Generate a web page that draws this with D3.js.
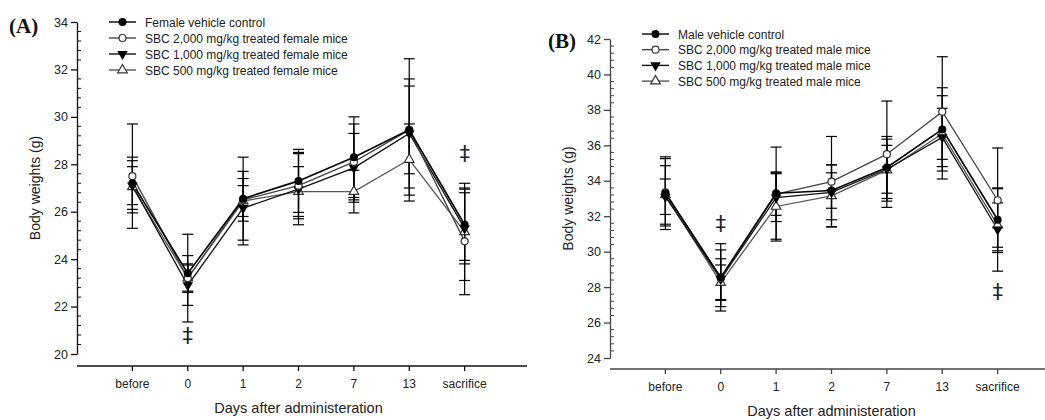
<!DOCTYPE html>
<html>
<head>
<meta charset="utf-8">
<script src="https://cdn.jsdelivr.net/npm/d3@7/dist/d3.min.js"></script>
<style>
  body { margin: 0; background: #fff; }
  svg { font-family: "Liberation Sans", Arial, sans-serif; }
</style>
</head>
<body>
<script>
// categorie asse x (uguali per entrambi i pannelli)
var days = ["before", "0", "1", "2", "7", "13", "sacrifice"];

// (A) femmine: medie e deviazioni
var femaleNames = ["Female vehicle control", "SBC 2,000 mg/kg treated female mice",
                   "SBC 1,000 mg/kg treated female mice", "SBC 500 mg/kg treated female mice"];
var femaleCtrl    = [27.2, 23.4, 26.55, 27.3, 28.3, 29.45, 25.45];
var femaleCtrlSd  = [1.1, 0.75, 1.75, 1.33, 1.7, 1.85, 1.5];
var female2000    = [27.5, 23.2, 26.5, 27.1, 28.1, 29.45, 24.75];
var female2000Sd  = [2.2, 1.85, 0.9, 1.4, 1.6, 3.0, 2.25];
var female1000    = [27.1, 22.9, 26.15, 26.95, 27.85, 29.3, 25.3];
var female1000Sd  = [0.8, 0.85, 1.55, 1.5, 1.45, 2.3, 1.5];
var female500     = [27.05, 23.2, 26.45, 26.85, 26.85, 28.2, 25.15];
var female500Sd   = [1.1, 0.6, 0.65, 1.05, 0.9, 1.5, 2.05];
var femaleTicks   = [20, 22, 24, 26, 28, 30, 32, 34];

// (B) maschi
var maleNames = ["Male vehicle control", "SBC 2,000 mg/kg treated male mice",
                 "SBC 1,000 mg/kg treated male mice", "SBC 500 mg/kg treated male mice"];
var maleCtrl    = [33.3, 28.55, 33.3, 33.45, 34.75, 36.9, 31.8];
var maleCtrlSd  = [2.05, 1.9, 2.6, 1.0, 1.75, 2.35, 1.75];
var male2000    = [33.35, 28.5, 33.25, 33.95, 35.5, 37.9, 32.9];
var male2000Sd  = [1.9, 1.6, 1.2, 2.55, 3.0, 3.1, 2.95];
var male1000    = [33.1, 28.45, 33.05, 33.35, 34.65, 36.45, 31.25];
var male1000Sd  = [1.0, 1.15, 1.35, 1.55, 1.35, 2.35, 2.35];
var male500     = [33.2, 28.25, 32.55, 33.15, 34.6, 36.65, 31.5];
var male500Sd   = [1.65, 1.0, 1.95, 1.75, 1.75, 1.44, 1.25];
var maleTicks   = [24, 26, 28, 30, 32, 34, 36, 38, 40, 42];

// simboli: pieno/vuoto, cerchio/triangolo
var markers = ["circleFill", "circleOpen", "triDown", "triUp"];
var lineCols = ["#000", "#444", "#111", "#555"];

var svg = d3.select("body").append("svg").attr("width", 1045).attr("height", 420);

function marker(g, type, x, y) {
    if (type == "circleFill")
        g.append("circle").attr("cx", x).attr("cy", y).attr("r", 4).attr("fill", "#000");
    else if (type == "circleOpen")
        g.append("circle").attr("cx", x).attr("cy", y).attr("r", 3.5).attr("fill", "#fff").attr("stroke", "#333").attr("stroke-width", 1.2);
    else if (type == "triDown")
        g.append("path").attr("d", d3.symbol(d3.symbolTriangle, 48)()).attr("transform", "translate(" + x + "," + y + ") rotate(180)").attr("fill", "#000");
    else
        g.append("path").attr("d", d3.symbol(d3.symbolTriangle, 40)()).attr("transform", "translate(" + x + "," + y + ")").attr("fill", "#fff").attr("stroke", "#333").attr("stroke-width", 1.2);
}

function drawPanel(p) {
    var g = svg.append("g");
    var x = d3.scaleLinear().domain([-1, 7]).range([p.x0, p.x0 + 443]);
    var y = d3.scaleLinear().domain([p.yMin, p.yMax]).range([p.yBottom, p.yTop]);

    // asse y: tick maggiori a sinistra, minori a destra
    var ya = g.append("g").attr("transform", "translate(" + p.x0 + ",0)")
        .call(d3.axisLeft(y).tickValues(p.ticks).tickSize(6).tickSizeOuter(0).tickPadding(3));
    ya.select(".domain").attr("stroke", p.axisCol).attr("stroke-width", 1.3);
    ya.selectAll(".tick line").attr("stroke", p.axisCol).attr("stroke-width", 1.3);
    ya.selectAll("text").attr("font-size", 12.5).attr("fill", "#222")
        .attr("font-family", "Liberation Sans, Arial, sans-serif");
    var minor = d3.range(p.yMin, p.yMax + 0.001, 0.4).filter(function(v) {
        return Math.abs(v / 2 - Math.round(v / 2)) > 0.01; });
    g.selectAll(".minor").data(minor).enter().append("line")
        .attr("x1", p.x0).attr("x2", p.x0 + 4)
        .attr("y1", function(d) { return y(d); }).attr("y2", function(d) { return y(d); })
        .attr("stroke", p.axisCol).attr("stroke-width", 1);

    // asse x staccato
    g.append("line").attr("x1", p.x0).attr("x2", p.x0 + 450).attr("y1", p.xAxisY).attr("y2", p.xAxisY)
        .attr("stroke", p.axisCol).attr("stroke-width", 1.5);
    days.forEach(function(d, i) {
        g.append("line").attr("x1", x(i)).attr("x2", x(i)).attr("y1", p.xAxisY).attr("y2", p.xAxisY + 5)
            .attr("stroke", p.axisCol).attr("stroke-width", 1.3);
        g.append("text").attr("x", x(i)).attr("y", p.xAxisY + 22).attr("text-anchor", "middle")
            .attr("font-size", 12).attr("fill", "#222").text(d);
    });
    g.append("text").attr("x", x(3)).attr("y", p.xAxisY + 47).attr("text-anchor", "middle")
        .attr("font-size", 14.5).attr("fill", "#222").text("Days after administeration");
    g.append("text").attr("transform", "translate(" + (p.x0 - 37) + "," + ((p.yTop + p.yBottom) / 2) + ") rotate(-90)")
        .attr("text-anchor", "middle").attr("font-size", 14).attr("fill", "#222").text("Body weights (g)");
    g.append("text").attr("x", p.labX).attr("y", p.labY)
        .style("font-family", "'Liberation Serif', 'Times New Roman', serif")
        .attr("font-weight", "bold").attr("font-size", 21).attr("fill", "#111").text(p.label);

    // barre d'errore
    p.series.forEach(function(s, k) {
        s.forEach(function(v, i) {
            var sd = p.sds[k][i];
            var cx = x(i);
            g.append("line").attr("x1", cx).attr("x2", cx).attr("y1", y(v - sd)).attr("y2", y(v + sd))
                .attr("stroke", "#000").attr("stroke-width", 1.2);
            [v - sd, v + sd].forEach(function(e) {
                g.append("line").attr("x1", cx - 5.5).attr("x2", cx + 5.5).attr("y1", y(e)).attr("y2", y(e))
                    .attr("stroke", "#000").attr("stroke-width", 1.2);
            });
        });
    });
    // linee
    var line = d3.line().x(function(d, i) { return x(i); }).y(function(d) { return y(d); });
    for (var k = p.series.length - 1; k >= 0; k--) {
        g.append("path").datum(p.series[k]).attr("d", line).attr("fill", "none")
            .attr("stroke", lineCols[k]).attr("stroke-width", k == 0 ? 1.6 : 1.3);
    }
    for (var k = p.series.length - 1; k >= 0; k--) {
        p.series[k].forEach(function(v, i) { marker(g, markers[k], x(i), y(v)); });
    }
    // simboli di significatività
    p.daggers.forEach(function(d) {
        g.append("text").attr("x", x(d[0])).attr("y", y(d[1])).attr("dy", 3).attr("text-anchor", "middle")
            .attr("dominant-baseline", "middle").style("font-family", "'DejaVu Sans', sans-serif")
            .attr("font-size", 21).attr("fill", "#223").text("\u2021");
    });

    // legenda
    p.names.forEach(function(n, k) {
        var ly = p.legY + k * p.legStep;
        g.append("line").attr("x1", p.legX).attr("x2", p.legX + 27).attr("y1", ly).attr("y2", ly)
            .attr("stroke", lineCols[k]).attr("stroke-width", 1.4);
        marker(g, markers[k], p.legX + 13.5, ly);
        g.append("text").attr("x", p.legX + 36).attr("y", ly + 4.5).attr("font-size", 12).attr("fill", "#222").text(n);
    });
}

drawPanel({
    x0: 77, yTop: 22, yBottom: 354, yMin: 20, yMax: 34, ticks: femaleTicks, xAxisY: 366,
    axisCol: "#111", label: "(A)", labX: 9, labY: 33,
    series: [femaleCtrl, female2000, female1000, female500],
    sds: [femaleCtrlSd, female2000Sd, female1000Sd, female500Sd],
    names: femaleNames, legX: 109, legY: 22, legStep: 16,
    daggers: [[1, 20.85], [6, 28.5]]
});
drawPanel({
    x0: 610, yTop: 39, yBottom: 358, yMin: 24, yMax: 42, ticks: maleTicks, xAxisY: 369,
    axisCol: "#444", label: "(B)", labX: 548, labY: 48,
    series: [maleCtrl, male2000, male1000, male500],
    sds: [maleCtrlSd, male2000Sd, male1000Sd, male500Sd],
    names: maleNames, legX: 642, legY: 34, legStep: 15.7,
    daggers: [[1, 31.65], [6, 27.85]]
});
</script>
</body>
</html>
